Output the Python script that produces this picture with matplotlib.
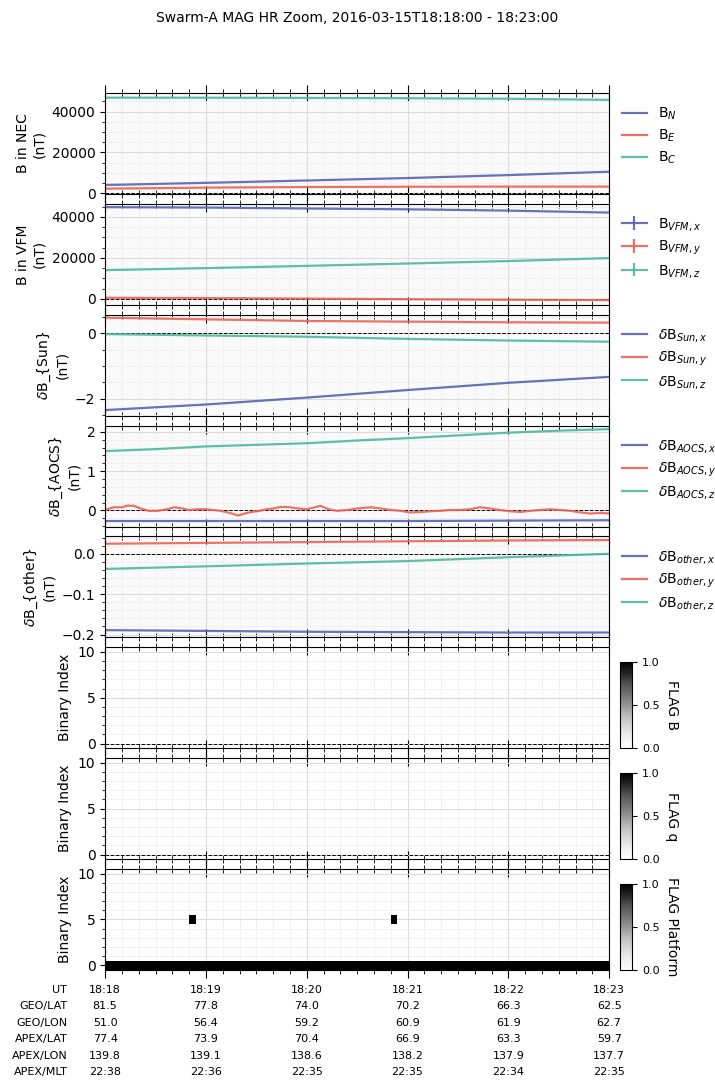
import numpy as np
import matplotlib
matplotlib.use("Agg")
import matplotlib.pyplot as plt
import matplotlib.dates as mdates
import matplotlib.transforms as mtransforms
from matplotlib.ticker import AutoMinorLocator
from datetime import datetime, timedelta

T0 = datetime(2016, 3, 15, 18, 18, 0)
T1 = datetime(2016, 3, 15, 18, 23, 0)

# sample times, seconds after 18:18:00
t_min = [0, 60, 120, 180, 240, 300]

# B in NEC (nT)
b_n = [4100, 5150, 6300, 7500, 8950, 10600]
b_e = [2300, 2800, 3100, 3250, 3300, 3300]
b_c = [46830, 46800, 46700, 46550, 46300, 45750]

# B in VFM frame (nT)
b_vfm_x = [44800, 44600, 44150, 43750, 43100, 42150]
b_vfm_y = [500, 350, 100, -200, -450, -650]
b_vfm_z = [14000, 15000, 16100, 17250, 18450, 19900]

# dB Sun (nT)
db_sun_x = [-2.34, -2.17, -1.96, -1.73, -1.51, -1.33]
db_sun_y = [0.47, 0.42, 0.37, 0.35, 0.33, 0.32]
db_sun_z = [-0.03, -0.07, -0.11, -0.175, -0.225, -0.26]

# dB AOCS (nT)
t_aocs_x = [0, 60, 120, 180, 240, 300]
db_aocs_x = [-0.27, -0.27, -0.27, -0.27, -0.26, -0.25]
t_aocs_y = [0, 5, 10, 13, 17, 21, 26, 31, 37, 41, 46, 50, 55, 60, 64, 69, 74, 79,
            83, 87, 92, 96, 100, 105, 110, 115, 120, 125, 128, 133, 138, 144, 150,
            158, 164, 170, 176, 181, 188, 194, 199, 205, 211, 217, 223, 229, 235,
            241, 247, 253, 259, 265, 271, 277, 283, 289, 295, 300]
db_aocs_y = [0.01, 0.08, 0.08, 0.12, 0.12, 0.05, -0.01, -0.01, 0.03, 0.08, 0.05, 0.01,
             0.03, 0.03, 0.01, -0.01, -0.06, -0.13, -0.08, -0.04, -0.01, 0.03, 0.05,
             0.09, 0.08, 0.05, 0.03, 0.08, 0.12, 0.03, -0.01, 0.01, 0.05, 0.08, 0.05,
             0.01, -0.01, -0.05, -0.04, -0.02, -0.01, 0.01, 0.01, 0.03, 0.08, 0.05,
             0.01, -0.02, -0.04, -0.01, 0.01, 0.03, 0.01, -0.01, -0.05, -0.08, -0.06,
             -0.08]
t_aocs_z = [0, 30, 60, 90, 120, 150, 180, 210, 240, 270, 300]
db_aocs_z = [1.51, 1.56, 1.63, 1.67, 1.71, 1.78, 1.84, 1.91, 1.98, 2.03, 2.07]

# dB other (nT)
db_other_x = [-0.189, -0.191, -0.193, -0.194, -0.195, -0.195]
db_other_y = [0.025, 0.027, 0.029, 0.031, 0.033, 0.034]
db_other_z = [-0.0375, -0.031, -0.024, -0.018, -0.0085, 0.0]

# y ranges of the five line panels
ylims = [(-300, 49100), (-2950, 46400), (-2.51, 0.56), (-0.41, 2.16), (-0.207, 0.043)]

# flags: (start s, end s, bit)
flag_b_bits = []
flag_q_bits = []
flag_platform_bits = [(0, 300, 0), (50, 54, 5), (170, 174, 5)]
n_bits = 11

# ephemeris table under the plot
row_names = ["UT", "GEO/LAT", "GEO/LON", "APEX/LAT", "APEX/LON", "APEX/MLT"]
ut_labels = ["18:18", "18:19", "18:20", "18:21", "18:22", "18:23"]
geo_lat = [81.5, 77.8, 74.0, 70.2, 66.3, 62.5]
geo_lon = [51.0, 56.4, 59.2, 60.9, 61.9, 62.7]
apex_lat = [77.4, 73.9, 70.4, 66.9, 63.3, 59.7]
apex_lon = [139.8, 139.1, 138.6, 138.2, 137.9, 137.7]
apex_mlt = ["22:38", "22:36", "22:35", "22:35", "22:34", "22:35"]

C_X = "#5763b4"
C_Y = "#ec6354"
C_Z = "#4cb99b"


def to_dt(secs):
    return [T0 + timedelta(seconds=s) for s in secs]


fig, axes = plt.subplots(8, 1, figsize=(7.15, 10.88), dpi=100, sharex=True)
fig.subplots_adjust(left=0.147, right=0.852, top=0.9145, bottom=0.1085, hspace=0.098)
fig.suptitle("Swarm-A MAG HR Zoom, 2016-03-15T18:18:00 - 18:23:00", fontsize=10, y=0.99)

line_panels = [
    ("B in NEC\n(nT)", [(t_min, b_n, r"B$_N$"), (t_min, b_e, r"B$_E$"), (t_min, b_c, r"B$_C$")], False),
    ("B in VFM\n(nT)", [(t_min, b_vfm_x, r"B$_{VFM,x}$"), (t_min, b_vfm_y, r"B$_{VFM,y}$"),
                        (t_min, b_vfm_z, r"B$_{VFM,z}$")], True),
    (r"$\delta$B_{Sun}" + "\n(nT)", [(t_min, db_sun_x, r"$\delta$B$_{Sun,x}$"),
                                     (t_min, db_sun_y, r"$\delta$B$_{Sun,y}$"),
                                     (t_min, db_sun_z, r"$\delta$B$_{Sun,z}$")], False),
    (r"$\delta$B_{AOCS}" + "\n(nT)", [(t_aocs_x, db_aocs_x, r"$\delta$B$_{AOCS,x}$"),
                                      (t_aocs_y, db_aocs_y, r"$\delta$B$_{AOCS,y}$"),
                                      (t_aocs_z, db_aocs_z, r"$\delta$B$_{AOCS,z}$")], False),
    (r"$\delta$B_{other}" + "\n(nT)", [(t_min, db_other_x, r"$\delta$B$_{other,x}$"),
                                       (t_min, db_other_y, r"$\delta$B$_{other,y}$"),
                                       (t_min, db_other_z, r"$\delta$B$_{other,z}$")], False),
]

for ax, (ylabel, series, as_err), lim in zip(axes[:5], line_panels, ylims):
    ax.set_facecolor("#fafafa")
    for (ts, vals, lab), col in zip(series, [C_X, C_Y, C_Z]):
        if as_err:
            ax.errorbar(to_dt(ts), vals, yerr=np.zeros(len(vals)), color=col, lw=1.6,
                        alpha=0.9, label=lab)
        else:
            ax.plot(to_dt(ts), vals, color=col, lw=1.6, alpha=0.9, label=lab)
    ax.axhline(0, color="black", ls="--", lw=0.7, zorder=1.8)
    ax.set_ylabel(ylabel)
    ax.set_ylim(*lim)
    ax.legend(loc="upper left", bbox_to_anchor=(1.0, 1.0), frameon=False,
              handlelength=1.8, labelspacing=0.4)

flag_panels = [(axes[5], flag_b_bits, "FLAG B"),
               (axes[6], flag_q_bits, "FLAG q"),
               (axes[7], flag_platform_bits, "FLAG Platform")]
x_edges = mdates.date2num(to_dt(range(0, 301)))
y_edges = np.arange(n_bits + 1) - 0.5
for ax, bits, name in flag_panels:
    grid = np.zeros((n_bits, 300))
    for s, e, b in bits:
        grid[b, s:e] = 1
    ax.set_facecolor("white")
    ax.pcolormesh(x_edges, y_edges, np.ma.masked_equal(grid, 0), cmap="Greys",
                  vmin=0, vmax=1, zorder=2)
    ax.axhline(0, color="black", ls="--", lw=0.7, zorder=2.5)
    ax.set_ylabel("Binary Index")
    ax.set_ylim(-0.5, 10.5)
    ax.set_yticks([0, 5, 10])
    cax = ax.inset_axes([1.022, 0.0, 0.024, 0.85])
    sm = plt.cm.ScalarMappable(cmap="Greys", norm=plt.Normalize(0, 1))
    cb = fig.colorbar(sm, cax=cax, ticks=[0, 0.5, 1.0])
    cb.ax.tick_params(labelsize=8)
    cb.set_label(name, rotation=270, labelpad=14)

for ax in axes:
    ax.grid(True, which="major", color="#dcdcdc", lw=0.8)
    ax.grid(True, which="minor", color="#efefef", lw=0.6)
    ax.yaxis.set_minor_locator(AutoMinorLocator())
    ax.xaxis.set_major_locator(mdates.MinuteLocator())
    ax.xaxis.set_minor_locator(mdates.SecondLocator(bysecond=range(0, 60, 10)))
    ax.tick_params(axis="x", which="major", direction="inout", length=12, top=True, bottom=True)
    ax.tick_params(axis="x", which="minor", direction="inout", length=6, top=True, bottom=True)
    ax.tick_params(axis="x", labelbottom=False)
    ax.set_xlim(T0, T1)

# ephemeris table below the last panel
ax = axes[-1]
trans = mtransforms.blended_transform_factory(ax.transData, ax.transAxes)
for i, ut in enumerate(ut_labels):
    col_text = "\n".join([ut, f"{geo_lat[i]:.1f}", f"{geo_lon[i]:.1f}", f"{apex_lat[i]:.1f}",
                          f"{apex_lon[i]:.1f}", apex_mlt[i]])
    ax.text(mdates.date2num(T0 + timedelta(minutes=i)), -0.15, col_text, transform=trans,
            ha="center", va="top", fontsize=8, linespacing=1.8, clip_on=False)
ax.text(-0.075, -0.15, "\n".join(row_names), transform=ax.transAxes, ha="right",
        va="top", fontsize=8, linespacing=1.8, multialignment="right")

fig.savefig("out.png", dpi=100)
